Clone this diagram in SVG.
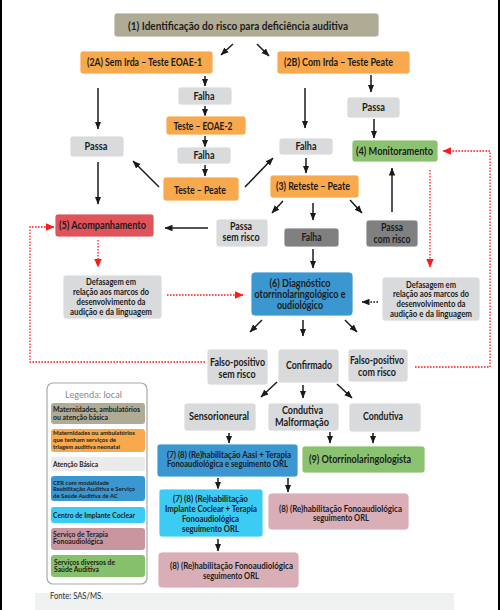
<svg xmlns="http://www.w3.org/2000/svg" width="500" height="610" viewBox="0 0 500 610">
<style>
text{font-family:Lato,"Liberation Sans",sans-serif;font-weight:700;fill:#1c1c1c;text-anchor:middle;font-size:10.5px}
.s{font-size:9px}
.l{font-size:7px;text-anchor:start}
.ls{font-size:6.2px;text-anchor:start}
.b{stroke:#fff;stroke-width:0.8}
.ol{fill:#afab94}.or{fill:#f8a84d}.lg{fill:#d9dadc}.dg{fill:#808080}.gr{fill:#8bc26f}.rd{fill:#e0535a}.bl{fill:#3b97d0}.lb{fill:#3ccbf3}.pk{fill:#d9aeb7}
.a{stroke:#1a1a1a;stroke-width:1.5;fill:none;marker-end:url(#ah)}
.r{stroke:#ff1a1a;stroke-width:1.3;fill:none;stroke-dasharray:1.6 1.4;marker-end:url(#ar)}
.k{stroke:#1a1a1a;stroke-width:1.3;fill:none;stroke-dasharray:1.6 1.4;marker-end:url(#ah)}
</style>
<defs>
<marker id="ah" markerUnits="userSpaceOnUse" markerWidth="8" markerHeight="8" viewBox="0 0 8 8" refX="7.5" refY="4" orient="auto"><path d="M0,0.8 L8,4 L0,7.2 Z" fill="#1a1a1a"/></marker>
<marker id="ar" markerUnits="userSpaceOnUse" markerWidth="9" markerHeight="9" viewBox="0 0 8 8" refX="7.5" refY="4" orient="auto"><path d="M0,0.5 L8,4 L0,7.5 Z" fill="#ff1a1a"/></marker>
</defs>
<rect width="500" height="610" fill="#fff"/>
<rect x="0" y="0" width="2" height="610" fill="#000"/>
<rect x="498" y="0" width="2" height="610" fill="#000"/>
<rect x="35" y="593" width="419" height="17" fill="#eff0f0"/>

<g id="connectors">
<path class="a" d="M233,44 L221,55"/>
<path class="a" d="M257,44 L269,56"/>
<path class="a" d="M205,76 V86"/>
<path class="a" d="M205,106 V116"/>
<path class="a" d="M205,136 V147"/>
<path class="a" d="M205,165 V176"/>
<path class="a" d="M98,88 V129"/>
<path class="a" d="M98,162 V204"/>
<path class="a" d="M159,187 L133,161"/>
<path class="a" d="M245,187 L273,158"/>
<path class="a" d="M371,75 V92"/>
<path class="a" d="M374,119 V138"/>
<path class="a" d="M305,88 V128"/>
<path class="a" d="M306,158 V173"/>
<path class="a" d="M283,201 L272,213"/>
<path class="a" d="M313,203 V220"/>
<path class="a" d="M350,200 L362,213"/>
<path class="a" d="M392,212 V168"/>
<path class="a" d="M208,228 H165"/>
<path class="a" d="M313,249 V268"/>
<path class="a" d="M262,320 L250,332"/>
<path class="a" d="M303,320 V336"/>
<path class="a" d="M345,320 L357,332"/>
<path class="a" d="M277,382 L261,397"/>
<path class="a" d="M303,385 V398"/>
<path class="a" d="M337,384 L352,398"/>
<path class="a" d="M229,433 V443"/>
<path class="a" d="M330,432 V443"/>
<path class="a" d="M373,433 V443"/>
<path class="a" d="M218,478 V489"/>
<path class="a" d="M288,478 V492"/>
<path class="a" d="M218,539 V551"/>
<path class="k" d="M378,302 H362"/>
<path class="r" d="M205,362 H30 V227 H54"/>
<path class="r" d="M98,240 V267"/>
<path class="r" d="M167,295 H243"/>
<path class="r" d="M415,367 H490 V151 H443"/>
<path class="r" d="M430,170 V267"/>
</g>

<g id="n1"><rect class="ol b" x="114" y="13" width="265" height="24" rx="3"/><text x="238" y="29.5" font-size="11.5" textLength="220" lengthAdjust="spacingAndGlyphs">(1) Identificação do risco para deficiência auditiva</text></g>
<g id="n2a"><rect class="or b" x="80" y="51" width="133" height="23" rx="3"/><text x="144.5" y="66" textLength="115" lengthAdjust="spacingAndGlyphs">(2A) Sem Irda – Teste EOAE-1</text></g>
<g id="n2b"><rect class="or b" x="277" y="51" width="133" height="23" rx="3"/><text x="338.5" y="66" textLength="109" lengthAdjust="spacingAndGlyphs">(2B) Com Irda – Teste Peate</text></g>
<g id="falha1"><rect class="lg b" x="178" y="87" width="54" height="18" rx="3"/><text x="204" y="99.5" textLength="21" lengthAdjust="spacingAndGlyphs">Falha</text></g>
<g id="eoae2"><rect class="or b" x="166" y="116" width="80" height="19" rx="3"/><text x="203" y="129.5" textLength="59" lengthAdjust="spacingAndGlyphs">Teste – EOAE-2</text></g>
<g id="falha2"><rect class="lg b" x="177" y="147" width="54" height="17" rx="3"/><text x="204" y="159" textLength="21" lengthAdjust="spacingAndGlyphs">Falha</text></g>
<g id="testepeate"><rect class="or b" x="163" y="177" width="76" height="24" rx="3"/><text x="200" y="193.5" textLength="52" lengthAdjust="spacingAndGlyphs">Teste – Peate</text></g>
<g id="passaL"><rect class="lg b" x="70" y="136" width="54" height="21" rx="3"/><text x="96" y="150" textLength="23" lengthAdjust="spacingAndGlyphs">Passa</text></g>
<g id="passaR"><rect class="lg b" x="347" y="97" width="53" height="21" rx="3"/><text x="373.5" y="111" textLength="23" lengthAdjust="spacingAndGlyphs">Passa</text></g>
<g id="falhaR"><rect class="lg b" x="279" y="138" width="54" height="17" rx="3"/><text x="306" y="150" textLength="21" lengthAdjust="spacingAndGlyphs">Falha</text></g>
<g id="reteste"><rect class="or b" x="270" y="175" width="89" height="23" rx="3"/><text x="313" y="190" textLength="74" lengthAdjust="spacingAndGlyphs">(3) Reteste – Peate</text></g>
<g id="monit"><rect class="gr b" x="352" y="140" width="86" height="22" rx="3"/><text x="394.5" y="154.5" textLength="77" lengthAdjust="spacingAndGlyphs">(4) Monitoramento</text></g>
<g id="acomp"><rect class="rd b" x="55" y="214" width="99" height="23" rx="3"/><text x="102.5" y="229" textLength="87" lengthAdjust="spacingAndGlyphs">(5) Acompanhamento</text></g>
<g id="passasem"><rect class="lg b" x="216" y="219" width="52" height="28" rx="3"/><text x="241" y="229.5" textLength="22" lengthAdjust="spacingAndGlyphs">Passa</text><text x="241" y="241" textLength="37" lengthAdjust="spacingAndGlyphs">sem risco</text></g>
<g id="falhaD"><rect class="dg b" x="284" y="228" width="55" height="19" rx="3"/><text x="311.5" y="241" textLength="20" lengthAdjust="spacingAndGlyphs">Falha</text></g>
<g id="passacom"><rect class="dg b" x="366" y="220" width="52" height="27" rx="3"/><text x="392" y="230.5" textLength="22" lengthAdjust="spacingAndGlyphs">Passa</text><text x="392" y="242.5" textLength="37" lengthAdjust="spacingAndGlyphs">com risco</text></g>
<g id="defL"><rect class="lg b" x="63" y="275" width="99" height="44" rx="3"/>
<text class="s" x="111" y="285" textLength="50" lengthAdjust="spacingAndGlyphs">Defasagem em</text>
<text class="s" x="111" y="295" textLength="76" lengthAdjust="spacingAndGlyphs">relação aos marcos do</text>
<text class="s" x="111" y="304.8" textLength="69" lengthAdjust="spacingAndGlyphs">desenvolvimento da</text>
<text class="s" x="111" y="314.5" textLength="82" lengthAdjust="spacingAndGlyphs">audição e da linguagem</text></g>
<g id="diag"><rect class="bl b" x="251" y="272" width="102" height="44" rx="4"/>
<text x="300" y="286.5" textLength="61" lengthAdjust="spacingAndGlyphs">(6) Diagnóstico</text>
<text x="300" y="298" textLength="91" lengthAdjust="spacingAndGlyphs">otorrinolaringológico e</text>
<text x="300" y="309" textLength="46" lengthAdjust="spacingAndGlyphs">oudiológico</text></g>
<g id="defR"><rect class="lg b" x="382" y="277" width="98" height="44" rx="3"/>
<text class="s" x="431" y="287.5" textLength="50" lengthAdjust="spacingAndGlyphs">Defasagem em</text>
<text class="s" x="431" y="297" textLength="76" lengthAdjust="spacingAndGlyphs">relação aos marcos do</text>
<text class="s" x="431" y="307" textLength="69" lengthAdjust="spacingAndGlyphs">desenvolvimento da</text>
<text class="s" x="431" y="316.5" textLength="82" lengthAdjust="spacingAndGlyphs">audição e da linguagem</text></g>
<g id="fpsem"><rect class="lg b" x="207" y="349" width="61" height="36" rx="3"/><text x="237.5" y="366" textLength="55" lengthAdjust="spacingAndGlyphs">Falso-positivo</text><text x="237" y="377.5" textLength="37" lengthAdjust="spacingAndGlyphs">sem risco</text></g>
<g id="confirmado"><rect class="lg b" x="278" y="349" width="61" height="34" rx="3"/><text x="309" y="368.5" textLength="46" lengthAdjust="spacingAndGlyphs">Confirmado</text></g>
<g id="fpcom"><rect class="lg b" x="348" y="349" width="60" height="33" rx="3"/><text x="377" y="363.5" textLength="54" lengthAdjust="spacingAndGlyphs">Falso-positivo</text><text x="377" y="375.5" textLength="38" lengthAdjust="spacingAndGlyphs">com risco</text></g>
<g id="sensor"><rect class="lg b" x="184" y="403" width="72" height="28" rx="3"/><text x="219" y="419.5" textLength="60" lengthAdjust="spacingAndGlyphs">Sensorioneural</text></g>
<g id="condmal"><rect class="lg b" x="268" y="403" width="71" height="28" rx="3"/><text x="302.5" y="414" textLength="41" lengthAdjust="spacingAndGlyphs">Condutiva</text><text x="302" y="425.7" textLength="54" lengthAdjust="spacingAndGlyphs">Malformação</text></g>
<g id="cond"><rect class="lg b" x="349" y="403" width="72" height="29" rx="3"/><text x="383" y="419.5" textLength="40" lengthAdjust="spacingAndGlyphs">Condutiva</text></g>
<g id="aasi"><rect class="bl b" x="157" y="444" width="141" height="33" rx="3"/><text class="s" x="229" y="457.5" textLength="124" lengthAdjust="spacingAndGlyphs">(7) (8) (Re)habilitação Aasi + Terapia</text><text class="s" x="227.5" y="467.3" textLength="121" lengthAdjust="spacingAndGlyphs">Fonoaudiológica e seguimento ORL</text></g>
<g id="otorrino"><rect class="gr b" x="302" y="446" width="123" height="27" rx="3"/><text x="360" y="463" textLength="102" lengthAdjust="spacingAndGlyphs">(9) Otorrinolaringologista</text></g>
<g id="implante"><rect class="lb b" x="159" y="489" width="104" height="48" rx="3"/>
<text class="s" x="210.5" y="501.5" textLength="75" lengthAdjust="spacingAndGlyphs">(7) (8) (Re)habilitação</text>
<text class="s" x="211" y="511.5" textLength="92" lengthAdjust="spacingAndGlyphs">Implante Coclear + Terapia</text>
<text class="s" x="210.5" y="521.5" textLength="57" lengthAdjust="spacingAndGlyphs">Fonoaudiológica</text>
<text class="s" x="210.5" y="531.5" textLength="57" lengthAdjust="spacingAndGlyphs">seguimento ORL</text></g>
<g id="pinkR"><rect class="pk b" x="268" y="493" width="141" height="37" rx="4"/><text class="s" x="340.5" y="511.5" textLength="123" lengthAdjust="spacingAndGlyphs">(8) (Re)habilitação Fonoaudiológica</text><text class="s" x="341" y="521.3" textLength="56" lengthAdjust="spacingAndGlyphs">seguimento ORL</text></g>
<g id="pinkB"><rect class="pk b" x="158" y="552" width="141" height="36" rx="4"/><text class="s" x="231.5" y="569" textLength="123" lengthAdjust="spacingAndGlyphs">(8) (Re)habilitação Fonoaudiológica</text><text class="s" x="231" y="579" textLength="56" lengthAdjust="spacingAndGlyphs">seguimento ORL</text></g>

<g id="legend">
<rect x="47" y="383" width="100" height="201" rx="6" fill="#fff" stroke="#a8a8a8" stroke-width="1.2"/>
<text x="93.5" y="397.5" style="font-weight:400;fill:#8a8a8a;font-size:10px" textLength="57" lengthAdjust="spacingAndGlyphs">Legenda: local</text>
<rect class="ol" x="51" y="403" width="94" height="21" rx="3"/>
<text class="l" x="53" y="412" textLength="87" lengthAdjust="spacingAndGlyphs">Maternidades, ambulatórios</text>
<text class="l" x="53" y="419.5" textLength="55" lengthAdjust="spacingAndGlyphs">ou atenção básica</text>
<rect class="or" x="51" y="429" width="94" height="23" rx="3"/>
<text class="ls" x="53" y="435" textLength="82" lengthAdjust="spacingAndGlyphs">Maternidades ou ambulatórios</text>
<text class="ls" x="53" y="442.3" textLength="63" lengthAdjust="spacingAndGlyphs">que tenham serviços de</text>
<text class="ls" x="53" y="449" textLength="67" lengthAdjust="spacingAndGlyphs">triagem auditiva neonatal</text>
<rect fill="#ebebec" x="51" y="457" width="94" height="14" rx="3"/>
<text class="l" x="53" y="466.5" textLength="45" lengthAdjust="spacingAndGlyphs">Atenção Básica</text>
<rect class="bl" x="51" y="476" width="94" height="25" rx="3"/>
<text class="ls" x="53" y="485" textLength="56" lengthAdjust="spacingAndGlyphs">CER com modalidade</text>
<text class="ls" x="53" y="491.3" textLength="82" lengthAdjust="spacingAndGlyphs">Reabilitação Auditiva e Serviço</text>
<text class="ls" x="53" y="497.5" textLength="65" lengthAdjust="spacingAndGlyphs">de Saúde Auditiva de AC</text>
<rect class="lb" x="51" y="507" width="94" height="16" rx="3"/>
<text class="l" x="53" y="518" textLength="82" lengthAdjust="spacingAndGlyphs">Centro de Implante Coclear</text>
<rect fill="#c9969f" x="51" y="528" width="94" height="22" rx="3"/>
<text class="l" x="53" y="536.5" textLength="55" lengthAdjust="spacingAndGlyphs">Serviço de Terapia</text>
<text class="l" x="53" y="544" textLength="50" lengthAdjust="spacingAndGlyphs">Fonoaudiológica</text>
<rect fill="#87c06b" x="51" y="555" width="94" height="22" rx="3"/>
<text class="l" x="54" y="564.5" textLength="61" lengthAdjust="spacingAndGlyphs">Serviços diversos de</text>
<text class="l" x="54" y="572" textLength="45" lengthAdjust="spacingAndGlyphs">Saúde Auditiva</text>
</g>
<text x="50" y="598.5" style="font-weight:400;fill:#333;font-size:9px;text-anchor:start" textLength="53" lengthAdjust="spacingAndGlyphs">Fonte: SAS/MS.</text>
</svg>
